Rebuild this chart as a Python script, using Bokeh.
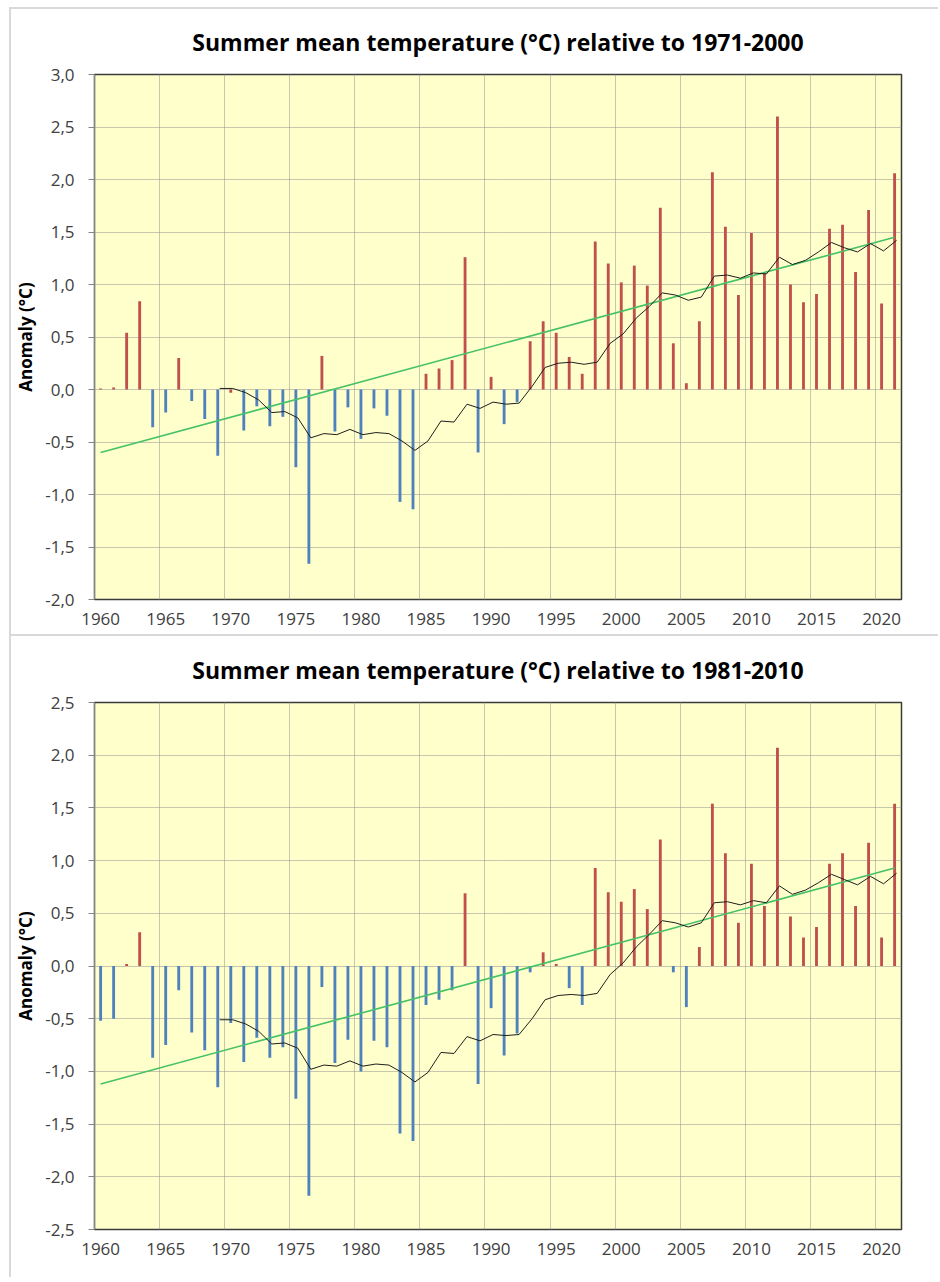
from bokeh.plotting import figure
from bokeh.layouts import column
from bokeh.models import Range1d, FixedTicker, ColumnDataSource, CustomJSTickFormatter
from bokeh.embed import file_html
from bokeh.resources import INLINE

# ---------------- data ----------------
years = list(range(1960, 2022))

anom_1971_2000 = [
    0.01, 0.02, 0.54, 0.84, -0.36, -0.22, 0.30, -0.11, -0.28, -0.63,
    -0.03, -0.39, -0.16, -0.35, -0.26, -0.74, -1.66, 0.32, -0.40, -0.17,
    -0.47, -0.18, -0.25, -1.07, -1.14, 0.15, 0.20, 0.28, 1.26, -0.60,
    0.12, -0.33, -0.12, 0.46, 0.65, 0.54, 0.31, 0.15, 1.41, 1.20,
    1.02, 1.18, 0.99, 1.73, 0.44, 0.06, 0.65, 2.07, 1.55, 0.90,
    1.49, 1.11, 2.60, 1.00, 0.83, 0.91, 1.53, 1.57, 1.12, 1.71,
    0.82, 2.06,
]

anom_1981_2010 = [
    -0.52, -0.50, 0.02, 0.32, -0.87, -0.75, -0.23, -0.63, -0.80, -1.15,
    -0.54, -0.91, -0.68, -0.87, -0.77, -1.26, -2.18, -0.20, -0.92, -0.70,
    -1.00, -0.71, -0.77, -1.59, -1.66, -0.37, -0.32, -0.23, 0.69, -1.12,
    -0.40, -0.85, -0.64, -0.06, 0.13, 0.02, -0.21, -0.37, 0.93, 0.70,
    0.61, 0.73, 0.54, 1.20, -0.06, -0.39, 0.18, 1.54, 1.07, 0.41,
    0.97, 0.57, 2.07, 0.47, 0.27, 0.37, 0.97, 1.07, 0.57, 1.17,
    0.27, 1.54,
]

ma_years = list(range(1969, 2022))

ma_1971_2000 = [
    0.01, 0.01, -0.03, -0.10, -0.22, -0.21, -0.27, -0.46, -0.42, -0.43,
    -0.38, -0.43, -0.41, -0.42, -0.49, -0.58, -0.49, -0.30, -0.31, -0.14,
    -0.18, -0.12, -0.14, -0.13, 0.03, 0.21, 0.25, 0.26, 0.24, 0.26,
    0.44, 0.53, 0.68, 0.79, 0.92, 0.90, 0.85, 0.88, 1.08, 1.09,
    1.06, 1.11, 1.10, 1.26, 1.19, 1.23, 1.31, 1.40, 1.35, 1.31,
    1.39, 1.32, 1.42,
]

ma_1981_2010 = [
    -0.51, -0.51, -0.55, -0.62, -0.74, -0.73, -0.78, -0.98, -0.94, -0.95,
    -0.90, -0.95, -0.93, -0.94, -1.01, -1.10, -1.01, -0.82, -0.83, -0.67,
    -0.71, -0.65, -0.66, -0.65, -0.50, -0.32, -0.28, -0.27, -0.28, -0.26,
    -0.08, 0.03, 0.18, 0.30, 0.43, 0.41, 0.37, 0.41, 0.60, 0.61,
    0.58, 0.62, 0.60, 0.76, 0.68, 0.72, 0.79, 0.87, 0.82, 0.77,
    0.85, 0.78, 0.88,
]

# linear trend end values (first year, last year)
trend_1971_2000 = [-0.60, 1.45]
trend_1981_2010 = [-1.12, 0.93]

x_label_years = [1960, 1965, 1970, 1975, 1980, 1985, 1990, 1995, 2000, 2005, 2010, 2015, 2020]
y_ticks_1971_2000 = [-2.0, -1.5, -1.0, -0.5, 0.0, 0.5, 1.0, 1.5, 2.0, 2.5, 3.0]
y_ticks_1981_2010 = [-2.5, -2.0, -1.5, -1.0, -0.5, 0.0, 0.5, 1.0, 1.5, 2.0, 2.5]

titles = [
    "Summer mean temperature (°C) relative to 1971-2000",
    "Summer mean temperature (°C) relative to 1981-2010",
]
y_title = "Anomaly (°C)"

# ---------------- style ----------------
RED = "#C0504D"
BLUE = "#4F81BD"
BG = "#FFFFCC"
FONT = "Open Sans"
BAR_OFFSET = 0.47
MA_OFFSET = 0.62


def make_chart(title, anoms, ma, trend, yticks, height, top_border, bottom_border,
               title_standoff, styles):
    ylo, yhi = yticks[0], yticks[-1]
    p = figure(width=929, height=height,
               x_range=Range1d(1960, 2022), y_range=Range1d(ylo, yhi),
               output_backend="svg", toolbar_location=None,
               min_border_left=82, min_border_right=39,
               min_border_top=top_border, min_border_bottom=bottom_border,
               background_fill_color=BG, border_fill_color="white")
    p.styles = styles

    p.title.text = title
    p.title.align = "center"
    p.title.vertical_align = "middle"
    p.title.text_font = FONT
    p.title.text_font_style = "bold"
    p.title.text_font_size = "23px"
    p.title.text_color = "black"
    p.title.standoff = title_standoff
    p.title.offset = 4

    p.outline_line_color = "#3b3b3b"
    p.outline_line_width = 1.5

    # grids
    p.xgrid.ticker = FixedTicker(ticks=x_label_years)
    p.ygrid.ticker = FixedTicker(ticks=yticks)
    for g in (p.xgrid, p.ygrid):
        g.grid_line_color = "#8f8f8f"
        g.grid_line_dash = "1 1"
        g.grid_line_width = 1

    # x axis
    xa = p.xaxis[0]
    xa.ticker = FixedTicker(ticks=[y + BAR_OFFSET for y in x_label_years])
    xa.formatter = CustomJSTickFormatter(code="return Math.floor(tick).toString();")
    xa.axis_line_color = None
    xa.major_tick_line_color = None
    xa.minor_tick_line_color = None
    xa.major_tick_out = 0
    xa.major_label_standoff = 13
    xa.major_label_text_font = FONT
    xa.major_label_text_font_size = "17px"
    xa.major_label_text_color = "#404040"

    # y axis
    ya = p.yaxis[0]
    ya.ticker = FixedTicker(ticks=yticks)
    ya.formatter = CustomJSTickFormatter(code="return tick.toFixed(1).replace('.', ',');")
    ya.axis_line_color = "#868686"
    ya.major_tick_line_color = "#868686"
    ya.minor_tick_line_color = None
    ya.major_tick_out = 6
    ya.major_tick_in = 0
    ya.major_label_standoff = 14
    ya.major_label_text_font = FONT
    ya.major_label_text_font_size = "17px"
    ya.major_label_text_color = "#404040"
    ya.axis_label = y_title
    ya.axis_label_text_font = FONT
    ya.axis_label_text_font_style = "bold"
    ya.axis_label_text_font_size = "17px"
    ya.axis_label_text_color = "black"
    ya.axis_label_standoff = 5

    colors = [RED if v > -0.05 else BLUE for v in anoms]
    src = ColumnDataSource(dict(x=[y + BAR_OFFSET for y in years], top=anoms, color=colors))
    p.vbar(x="x", top="top", bottom=0, width=0.22, fill_color="color", line_color=None, source=src)

    p.line([years[0] + BAR_OFFSET, years[-1] + BAR_OFFSET], trend,
           line_color="#45c266", line_width=1.6)
    p.line([y + MA_OFFSET for y in ma_years], ma, line_color="#1e1e1e", line_width=1)
    return p


frame_css = "2px solid #d9d9d9"
p1 = make_chart(titles[0], anom_1971_2000, ma_1971_2000, trend_1971_2000, y_ticks_1971_2000,
                629, 65, 39, 31,
                {"margin-top": "7px", "margin-left": "9px",
                 "border-top": frame_css, "border-left": frame_css, "border-bottom": frame_css})
p2 = make_chart(titles[1], anom_1981_2010, ma_1981_2010, trend_1981_2010, y_ticks_1981_2010,
                641, 66, 48, 32,
                {"margin-left": "9px", "border-left": frame_css})

layout = column(p1, p2, spacing=0)
open("out.html", "w").write(file_html(layout, INLINE))
